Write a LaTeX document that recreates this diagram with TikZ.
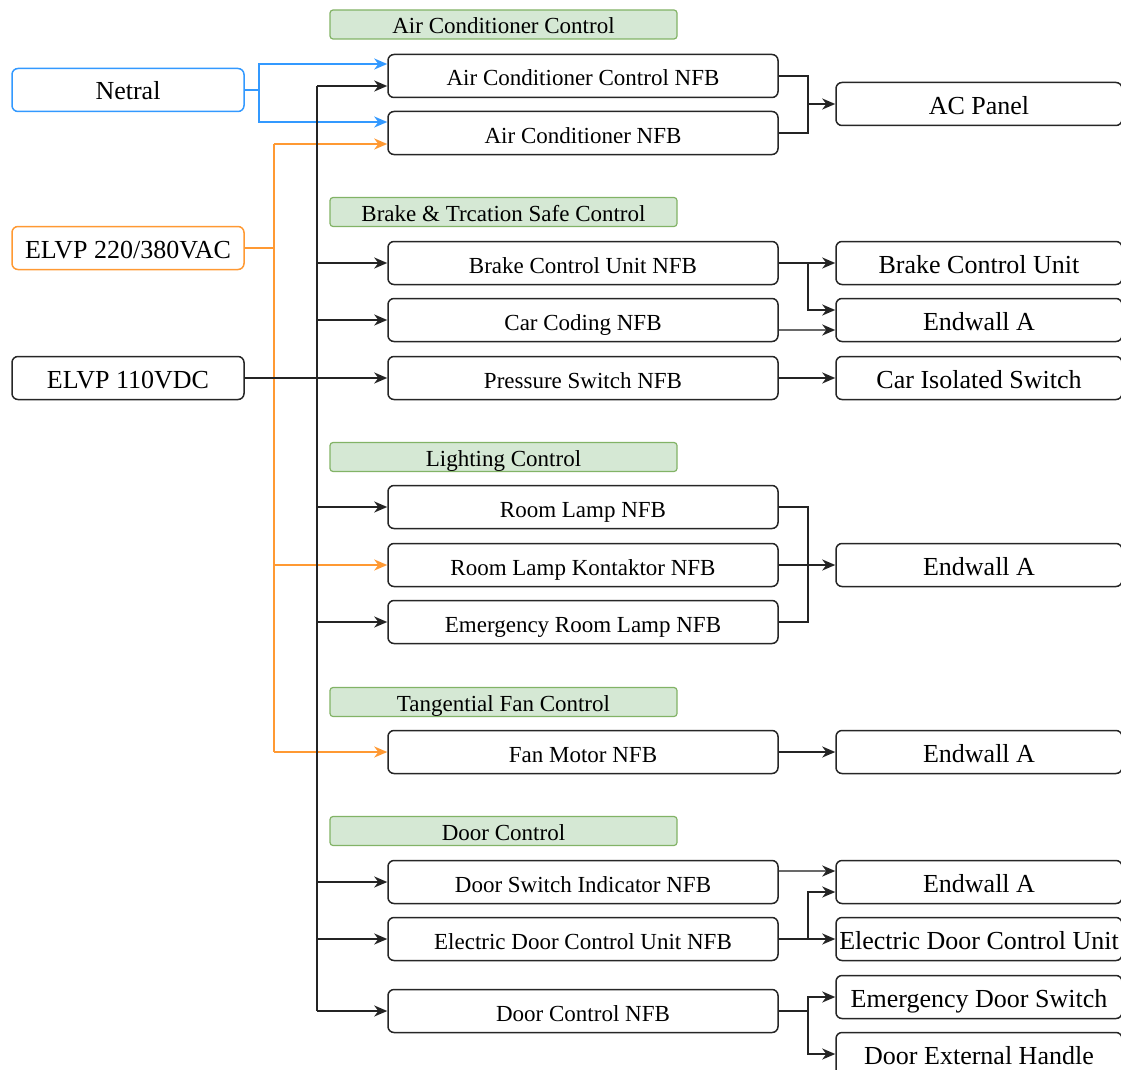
\documentclass[tikz,border=0pt]{standalone}
\usepackage{fontspec}
\setmainfont{Liberation Serif}
\usetikzlibrary{arrows.meta}
\definecolor{ink}{RGB}{38,38,38}
\definecolor{wire}{RGB}{36,36,36}
\definecolor{greywire}{RGB}{105,105,105}
\definecolor{neutralblue}{RGB}{51,153,255}
\definecolor{acorange}{RGB}{255,153,51}
\definecolor{hdrfill}{RGB}{213,232,212}
\definecolor{hdrline}{RGB}{130,179,102}

\begin{document}
\begin{tikzpicture}[x=1pt,y=-1pt,
  box/.style={draw=ink, line width=1.5pt, rounded corners=6pt, inner sep=0pt,
              minimum height=43pt, text=black, text height=20pt, text depth=0pt},
  mid/.style={box, minimum width=390pt, font=\fontsize{23}{27}\selectfont},
  src/.style={box, minimum width=232pt, font=\fontsize{26}{30}\selectfont},
  load/.style={box, minimum width=286pt, font=\fontsize{26}{30}\selectfont},
  hdr/.style={draw=hdrline, fill=hdrfill, line width=1.2pt, rounded corners=3pt,
              minimum width=347pt, minimum height=29pt, inner sep=0pt,
              text height=19pt, text depth=0pt,
              font=\fontsize{23}{27}\selectfont},
  tip/.style={-{Stealth[length=13pt,width=11pt,inset=4pt]}},
  dc/.style={draw=wire, line width=1.8pt},
  dcarr/.style={dc, tip},
  greyarr/.style={draw=greywire, line width=2pt,
                  -{Stealth[length=13pt,width=11pt,inset=4pt,color=wire]}},
  bluline/.style={draw=neutralblue, line width=1.8pt},
  blu/.style={bluline, tip},
  orgline/.style={draw=acorange, line width=1.8pt},
  org/.style={orgline, tip},
]
\useasboundingbox (0,0) rectangle (1121,1070);

% section headers
\node[hdr] (h1) at (503.5,24.5) {Air Conditioner Control};
\node[hdr] (h2) at (503.5,212) {Brake \& Trcation Safe Control};
\node[hdr] (h3) at (503.5,457) {Lighting Control};
\node[hdr] (h4) at (503.5,702) {Tangential Fan Control};
\node[hdr] (h5) at (503.5,831) {Door Control};

% supplies
\node[src, draw=neutralblue] (netral) at (128,90) {Netral};
\node[src, draw=acorange] (vac) at (128,248) {ELVP 220/380VAC};
\node[src] (vdc) at (128,378) {ELVP 110VDC};

% breakers
\node[mid] (acc) at (583,76) {Air Conditioner Control NFB};
\node[mid] (acn) at (583,133) {Air Conditioner NFB};
\node[mid] (bcn) at (583,263) {Brake Control Unit NFB};
\node[mid] (ccn) at (583,320) {Car Coding NFB};
\node[mid] (psn) at (583,378) {Pressure Switch NFB};
\node[mid] (rln) at (583,507) {Room Lamp NFB};
\node[mid] (rkn) at (583,565) {Room Lamp Kontaktor NFB};
\node[mid] (ern) at (583,622) {Emergency Room Lamp NFB};
\node[mid] (fmn) at (583,752) {Fan Motor NFB};
\node[mid] (dsn) at (583,882) {Door Switch Indicator NFB};
\node[mid] (edn) at (583,939) {Electric Door Control Unit NFB};
\node[mid] (dcn) at (583,1011) {Door Control NFB};

% loads
\node[load] (acp) at (979,104) {AC Panel};
\node[load] (bcu) at (979,263) {Brake Control Unit};
\node[load] (ewa) at (979,320) {Endwall A};
\node[load] (cis) at (979,378) {Car Isolated Switch};
\node[load] (ewb) at (979,565) {Endwall A};
\node[load] (ewc) at (979,752) {Endwall A};
\node[load] (ewd) at (979,882) {Endwall A};
\node[load] (edu) at (979,939) {Electric Door Control Unit};
\node[load] (eds) at (979,997) {Emergency Door Switch};
\node[load] (deh) at (979,1054) {Door External Handle};

% junction points
\path (netral.east) ++(14,0) coordinate (nj);
\path ([yshift=12pt]acc.west) coordinate (acchi);
\path ([yshift=-10pt]acc.west) coordinate (acclo);
\path ([yshift=11pt]acn.west) coordinate (acnhi);
\path ([yshift=-11pt]acn.west) coordinate (acnlo);
\path (vac.east) ++(29,0) coordinate (oj);
\path (vdc.east) ++(72,0) coordinate (bj);

% neutral feed
\draw[bluline] (netral.east) -- (nj);
\draw[blu] (nj) |- (acchi);
\draw[blu] (nj) |- (acnhi);

% 220/380 VAC feed
\draw[orgline] (vac.east) -- (oj);
\draw[orgline] (oj |- acnlo) -- (oj |- fmn.west);
\draw[org] (oj |- acnlo) -- (acnlo);
\draw[org] (oj |- rkn.west) -- (rkn.west);
\draw[org] (oj |- fmn.west) -- (fmn.west);

% 110 VDC bus
\draw[dc] (bj |- acclo) -- (bj |- dcn.west);
\draw[dcarr] (vdc.east) -- (psn.west);
\draw[dcarr] (bj |- acclo) -- (acclo);
\draw[dcarr] (bj |- bcn.west) -- (bcn.west);
\draw[dcarr] (bj |- ccn.west) -- (ccn.west);
\draw[dcarr] (bj |- rln.west) -- (rln.west);
\draw[dcarr] (bj |- ern.west) -- (ern.west);
\draw[dcarr] (bj |- dsn.west) -- (dsn.west);
\draw[dcarr] (bj |- edn.west) -- (edn.west);
\draw[dcarr] (bj |- dcn.west) -- (dcn.west);

% breaker outputs
\path (acc.east) ++(29,0) coordinate (aj);
\draw[dc] (acc.east) -- (aj) |- (acn.east);
\draw[dcarr] (aj |- acp.west) -- (acp.west);

\path (bcn.east) ++(29,0) coordinate (kj);
\draw[dcarr] (bcn.east) -- (bcu.west);
\draw[dcarr] (kj) |- ([yshift=10pt]ewa.west);
\draw[greyarr] ([yshift=-10pt]ccn.east) -- ([yshift=-10pt]ewa.west);
\draw[dcarr] (psn.east) -- (cis.west);

\path (rln.east) ++(29,0) coordinate (lj);
\draw[dc] (rln.east) -- (lj) |- (ern.east);
\draw[dcarr] (rkn.east) -- (ewb.west);

\draw[dcarr] (fmn.east) -- (ewc.west);

\path (edn.east) ++(29,0) coordinate (ej);
\draw[greyarr] ([yshift=11pt]dsn.east) -- ([yshift=11pt]ewd.west);
\draw[dcarr] (edn.east) -- (edu.west);
\draw[dcarr] (ej) |- ([yshift=-10pt]ewd.west);

\path (dcn.east) ++(29,0) coordinate (dj);
\draw[dc] (dcn.east) -- (dj);
\draw[dcarr] (dj) |- (eds.west);
\draw[dcarr] (dj) |- (deh.west);
\end{tikzpicture}
\end{document}
